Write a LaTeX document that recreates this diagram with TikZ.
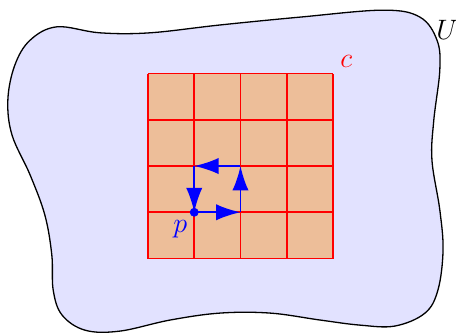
\documentclass[tikz,border=0pt]{standalone}
\usepackage{amsmath,amssymb,amsfonts}
\usepackage{xcolor}
\usepackage{tikz}
\usetikzlibrary{arrows.meta,positioning,calc}
\definecolor{cellfill}{RGB}{237,190,153}
\definecolor{regionfill}{RGB}{226,226,255}
\tikzset{
  loopedge/.style={blue, line width=1.2pt, -{Latex[length=15pt,width=10pt]}},
  gridline/.style={red, line width=1.1pt},
}

\begin{document}
\begin{tikzpicture}[>=latex, font=\LARGE]
  \useasboundingbox (-3.2,-1.61) rectangle (6.66,5.59);
  \draw[black, line width=0.8pt, fill=regionfill] plot[smooth cycle, tension=0.6] coordinates {
        (-1.97,5.01) (-1.04,4.88) (0.04,4.88) (1.56,5.05) (3.29,5.22) (5.08,5.37)
        (5.88,5.22) (6.25,4.72) (6.31,4.08) (6.18,2.99) (6.14,2.13) (6.31,1.05)
        (6.38,0.18) (6.27,-0.68) (5.99,-1.18) (5.34,-1.46) (4.58,-1.44) (3.72,-1.33)
        (2.64,-1.18) (1.56,-1.18) (0.48,-1.33) (-0.61,-1.57) (-1.36,-1.55) (-1.86,-1.22)
        (-2.05,-0.68) (-2.08,0.08) (-2.23,0.94) (-2.55,1.81) (-2.94,2.67) (-3.03,3.43)
        (-2.88,4.18) (-2.55,4.72)};
  \node[black] (U) at (6.47,4.94) {$U$};
  \fill[cellfill] (0,0) rectangle (4,4);
  \draw[gridline] (0,0) grid (4,4);
  \node[red] (c) at (4.29,4.27) {$c$};
  \coordinate (p) at (1,1);
  \coordinate (q) at (2,1);
  \coordinate (r) at (2,2);
  \coordinate (s) at (1,2);
  \draw[loopedge] (p) -- (q);
  \draw[loopedge] (q) -- (r);
  \draw[loopedge] (r) -- (s);
  \draw[loopedge] (s) -- (p);
  \filldraw[blue] (p) circle (2.5pt);
  \node[blue] (plabel) at ($(p)+(-0.30,-0.37)$) {$p$};
\end{tikzpicture}
\end{document}
